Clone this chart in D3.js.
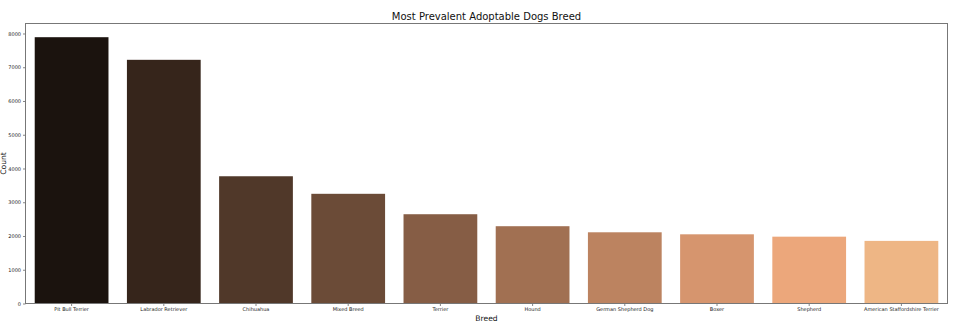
<!DOCTYPE html>
<html><head><meta charset="utf-8">
<script src="https://cdn.jsdelivr.net/npm/d3@7"></script>
<style>body{margin:0;background:#fff}svg{display:block}text{font-family:"DejaVu Sans",sans-serif}</style>
</head><body><svg id="c" width="955" height="325"></svg>
<script>
const breeds = ["Pit Bull Terrier","Labrador Retriever","Chihuahua","Mixed Breed","Terrier","Hound","German Shepherd Dog","Boxer","Shepherd","American Staffordshire Terrier"];
const counts = [7890,7220,3770,3250,2645,2290,2110,2050,1980,1855];
const yTicks = [0,1000,2000,3000,4000,5000,6000,7000,8000];

// seaborn "copper" palette, desaturated 0.75
const colors = breeds.map((b,i)=>{
  const x=(i+1)/(breeds.length+1);
  const c=d3.rgb(Math.min(1,1.25*x)*255, 0.7812*x*255, 0.4975*x*255);
  const h=d3.hsl(c); h.s*=0.75; return h.formatHex();
});

const svg=d3.select("#c");
const L=25.5,R=947.5,T=23.5,B=303.5;
const x=d3.scaleBand().domain(breeds).range([L,R]).paddingInner(0.2).paddingOuter(0.1);
const y=d3.scaleLinear().domain([0,8296]).range([B,T]);

svg.append("g").selectAll("rect").data(breeds).join("rect")
  .attr("x",d=>x(d)).attr("width",x.bandwidth())
  .attr("y",(d,i)=>y(counts[i])).attr("height",(d,i)=>B-y(counts[i]))
  .attr("fill",(d,i)=>colors[i]);

const ya=svg.append("g").attr("transform",`translate(${L},0)`)
  .call(d3.axisLeft(y).tickValues(yTicks).tickSize(2.5).tickPadding(2).tickFormat(d3.format("d")));
ya.select(".domain").remove();
ya.selectAll("line").attr("stroke","#666").attr("stroke-width",0.8);
ya.selectAll("text").attr("font-size",5).attr("fill","#222");

const xa=svg.append("g").attr("transform",`translate(0,${B})`)
  .call(d3.axisBottom(x).tickSize(2.5).tickPadding(1.5));
xa.select(".domain").remove();
xa.selectAll("line").attr("stroke","#666").attr("stroke-width",0.8);
xa.selectAll("text").attr("font-size",5).attr("fill","#222");

svg.append("rect").attr("x",L).attr("y",T).attr("width",R-L).attr("height",B-T)
  .attr("fill","none").attr("stroke","#777").attr("stroke-width",1);

svg.append("text").attr("x",(L+R)/2).attr("y",19.5).attr("text-anchor","middle")
  .attr("font-size",10).attr("fill","#111").text("Most Prevalent Adoptable Dogs Breed");
svg.append("text").attr("x",(L+R)/2).attr("y",321).attr("text-anchor","middle")
  .attr("font-size",7.6).attr("fill","#111").text("Breed");
svg.append("text").attr("transform",`translate(6,${(T+B)/2}) rotate(-90)`).attr("text-anchor","middle")
  .attr("font-size",7.6).attr("fill","#111").text("Count");
</script></body></html>
